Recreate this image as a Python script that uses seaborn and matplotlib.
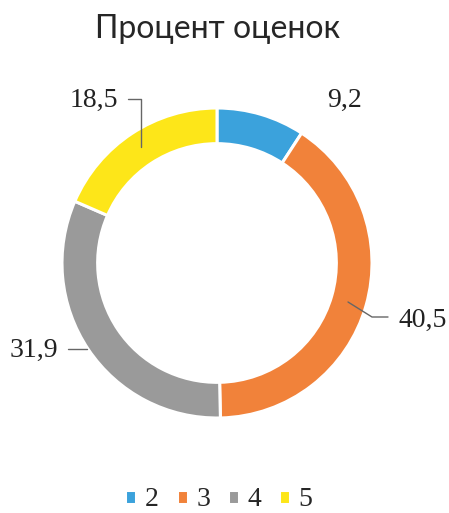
import matplotlib
matplotlib.use("Agg")
import matplotlib.pyplot as plt
import seaborn as sns

# Данные диаграммы
grades = ["2", "3", "4", "5"]
percents = [9.2, 40.5, 31.9, 18.5]
percent_labels = ["9,2", "40,5", "31,9", "18,5"]
colors = ["#3ba2dc", "#f1823a", "#9a9a9a", "#fde619"]

sns.set_theme(style="white")
plt.rcParams['font.family'] = ['Liberation Serif', 'DejaVu Serif']

W, H = 449, 513
cx, cy, R = 217, 263, 155


def px(x, y):
    # пиксели картинки -> координаты осей (1 = внешний радиус)
    return (x - cx) / R, (cy - y) / R


fig = plt.figure(figsize=(W / 100, H / 100), dpi=100)
ax = fig.add_axes([0, 0, 1, 1])
wedges, _ = ax.pie(percents, colors=colors, startangle=90, counterclock=False,
                   radius=1.0,
                   wedgeprops=dict(width=0.23, edgecolor="white", linewidth=2.2))
ax.set_xlim(px(0, 0)[0], px(W, 0)[0])
ax.set_ylim(px(0, H)[1], px(0, 0)[1])
ax.set_aspect("auto")
ax.axis("off")

# Подписи значений
label_pos = [(345, 100), (423, 320), (34, 350), (94, 100)]
for txt, (x, y) in zip(percent_labels, label_pos):
    ax.text(*px(x, y), txt, ha="center", va="center", fontsize=20, color="#222222")

# Линии-выноски
leaders = [
    [(348, 302), (372, 317), (388, 317)],
    [(68, 349), (87, 349)],
    [(128, 99), (141, 99), (141, 147)],
]
for pts in leaders:
    xs, ys = zip(*[px(x, y) for x, y in pts])
    ax.plot(xs, ys, color="#666666", lw=1.0)

fig.text(218 / W, 1 - 29 / H, "Процент оценок", ha="center", va="center",
         fontsize=23, color="#262626", family=["Lato", "DejaVu Sans"])

fig.legend(wedges, grades, loc="center", bbox_to_anchor=(219 / W, 1 - 500 / H),
           ncol=4, frameon=False, fontsize=20, handlelength=0.4, handleheight=0.4,
           handletextpad=0.3, columnspacing=0.65, borderpad=0)

fig.savefig("out.png", dpi=100, facecolor="white")
